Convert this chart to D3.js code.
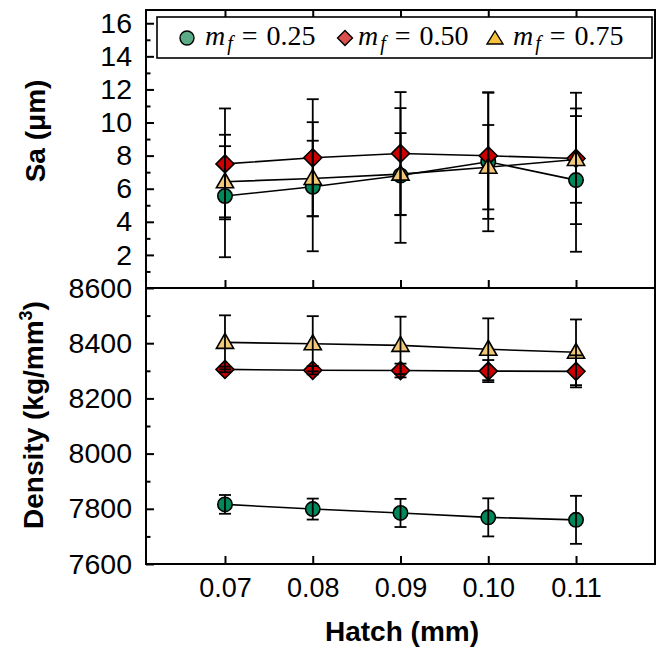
<!DOCTYPE html>
<html>
<head>
<meta charset="utf-8">
<script src="https://cdn.jsdelivr.net/npm/d3@7"></script>
<style>
  html, body { margin: 0; padding: 0; background: #fff; }
  svg { display: block; }
  .tick text { font-family: "Liberation Sans", Arial, sans-serif; font-size: 27px; fill: #000; }
  .y-axis .tick text { font-size: 28.5px; }
  .tick line { stroke: #000; stroke-width: 2px; }
</style>
</head>
<body>
<svg id="chart" width="661" height="655"></svg>
<script>
// Hatch spacing (mm)
const hatch = [0.07, 0.08, 0.09, 0.10, 0.11];

// Surface roughness Sa (µm) and standard deviation per powder mass fraction
const sa025 = [5.56, 6.12, 6.80, 7.63, 6.52];
const saErr025 = [3.70, 3.90, 4.07, 4.20, 4.33];
const sa050 = [7.50, 7.87, 8.13, 7.99, 7.83];
const saErr050 = [3.35, 3.54, 3.71, 3.81, 3.97];
const sa075 = [6.42, 6.62, 6.88, 7.30, 7.77];
const saErr075 = [2.15, 2.28, 2.48, 2.55, 2.62];

// Density (kg/mm³) and standard deviation
const den025 = [7816, 7799, 7785, 7769, 7760];
const denErr025 = [34, 38, 51, 69, 87];
const den050 = [8305, 8302, 8301, 8299, 8298];
const denErr050 = [10, 15, 25, 40, 58];
const den075 = [8403, 8398, 8392, 8378, 8367];
const denErr075 = [98, 100, 104, 112, 119];

// Axis ticks
const xTicks = [0.07, 0.08, 0.09, 0.10, 0.11];
const saMajor = [2, 4, 6, 8, 10, 12, 14, 16];
const saMinor = [1, 3, 5, 7, 9, 11, 13, 15];
const denMajor = [7600, 7800, 8000, 8200, 8400, 8600];
const denMinor = [7700, 7900, 8100, 8300, 8500];

// Series definitions
const mfLabels = ["0.25", "0.50", "0.75"];
const symbols = ["circle", "diamond", "triangle"];
const fills = ["#00875a", "#cc0000", "#f1c878"];
const legendFills = ["#5aab86", "#d9504f", "#f6c23e"];

const series = mfLabels.map((mf, i) => ({
  mf,
  symbol: symbols[i],
  fill: fills[i],
  legendFill: legendFills[i],
  sa: [sa025, sa050, sa075][i],
  saErr: [saErr025, saErr050, saErr075][i],
  den: [den025, den050, den075][i],
  denErr: [denErr025, denErr050, denErr075][i]
}));

const svg = d3.select("#chart");

const plotLeft = 146, plotRight = 655, plotTop = 10, plotMid = 288, plotBottom = 564;

const x = d3.scaleLinear().domain([0.061, 0.119]).range([plotLeft, plotRight]);
const ySa = d3.scaleLinear().domain([0, 16.8]).range([plotMid, plotTop]);
const yDen = d3.scaleLinear().domain([7600, 8600]).range([plotBottom, plotMid]);

// Marker shapes
function markerPath(sym, cx, cy) {
  if (sym === "circle") {
    const p = d3.path(); p.arc(cx, cy, 7.2, 0, 2 * Math.PI); return p.toString();
  }
  if (sym === "diamond") {
    const h = 9;
    return `M${cx},${cy - h}L${cx + h},${cy}L${cx},${cy + h}L${cx - h},${cy}Z`;
  }
  const w = 8.6, ht = 15;
  return `M${cx},${cy - ht * 0.6}L${cx + w},${cy + ht * 0.4}L${cx - w},${cy + ht * 0.4}Z`;
}

// Axes
function yAxis(scale, major, minor, g) {
  g.append("g").attr("class", "y-axis").attr("transform", `translate(${plotLeft},0)`)
    .call(d3.axisLeft(scale).tickValues(major).tickSize(-8).tickSizeOuter(0).tickPadding(14).tickFormat(d3.format("d")))
    .call(s => s.select(".domain").remove());
  g.append("g").attr("transform", `translate(${plotLeft},0)`)
    .call(d3.axisLeft(scale).tickValues(minor).tickSize(-4.5).tickSizeOuter(0).tickFormat(""))
    .call(s => s.select(".domain").remove());
}

const axes = svg.append("g");
yAxis(ySa, saMajor, saMinor, axes);
yAxis(yDen, denMajor, denMinor, axes);

// x ticks: top edge (down), panel divider (up), bottom edge (up, labelled)
axes.append("g").attr("transform", `translate(0,${plotTop})`)
  .call(d3.axisTop(x).tickValues(xTicks).tickSize(-8).tickSizeOuter(0).tickFormat(""))
  .call(s => s.select(".domain").remove());
axes.append("g").attr("transform", `translate(0,${plotMid})`)
  .call(d3.axisBottom(x).tickValues(xTicks).tickSize(-8).tickSizeOuter(0).tickFormat(""))
  .call(s => s.select(".domain").remove());
axes.append("g").attr("transform", `translate(0,${plotBottom})`)
  .call(d3.axisBottom(x).tickValues(xTicks).tickSize(-8).tickSizeOuter(0).tickPadding(14).tickFormat(d3.format(".2f")))
  .call(s => s.select(".domain").remove());

// Panel frames
svg.append("rect").attr("x", plotLeft).attr("y", plotTop).attr("width", plotRight - plotLeft).attr("height", plotMid - plotTop)
  .attr("fill", "none").attr("stroke", "#000").attr("stroke-width", 2);
svg.append("rect").attr("x", plotLeft).attr("y", plotMid).attr("width", plotRight - plotLeft).attr("height", plotBottom - plotMid)
  .attr("fill", "none").attr("stroke", "#000").attr("stroke-width", 2);

// Panel content
function drawPanel(y, key, errKey) {
  const g = svg.append("g");
  const line = d3.line().x((d, i) => x(hatch[i])).y(d => y(d));
  series.forEach(s => {
    g.append("path").attr("d", line(s[key])).attr("fill", "none")
      .attr("stroke", "#000").attr("stroke-width", 1.6);
  });
  series.forEach(s => {
    g.selectAll(null).data(s[key]).join("path")
      .attr("d", (d, i) => markerPath(s.symbol, x(hatch[i]), y(d)))
      .attr("fill", s.fill).attr("stroke", "#000").attr("stroke-width", 1.6);
  });
  series.forEach(s => {
    s[key].forEach((v, i) => {
      const cx = x(hatch[i]);
      const hi = y(v + s[errKey][i]), lo = y(v - s[errKey][i]);
      g.append("line").attr("x1", cx).attr("x2", cx).attr("y1", hi).attr("y2", lo)
        .attr("stroke", "#000").attr("stroke-width", 1.8);
      [hi, lo].forEach(yy => g.append("line").attr("x1", cx - 6).attr("x2", cx + 6)
        .attr("y1", yy).attr("y2", yy).attr("stroke", "#000").attr("stroke-width", 1.8));
    });
  });
}
drawPanel(ySa, "sa", "saErr");
drawPanel(yDen, "den", "denErr");

// Legend
const lg = svg.append("g");
lg.append("rect").attr("x", 157).attr("y", 17).attr("width", 495).attr("height", 41)
  .attr("fill", "#fff").attr("stroke", "#000").attr("stroke-width", 1.6);
const legendX = [187, 345, 495];
series.forEach((s, i) => {
  const cx = legendX[i], cy = 38;
  let d;
  if (s.symbol === "circle") { const p = d3.path(); p.arc(cx, cy, 7, 0, 2 * Math.PI); d = p.toString(); }
  else if (s.symbol === "diamond") d = `M${cx},${cy - 7.5}L${cx + 7.5},${cy}L${cx},${cy + 7.5}L${cx - 7.5},${cy}Z`;
  else d = `M${cx},${cy - 7}L${cx + 8},${cy + 6}L${cx - 8},${cy + 6}Z`;
  lg.append("path").attr("d", d).attr("fill", s.legendFill).attr("stroke", "#000").attr("stroke-width", 1.4);
  const t = lg.append("text").attr("x", cx + (s.symbol === "diamond" ? 13 : 18)).attr("y", 45)
    .attr("font-family", "'Liberation Serif', 'Times New Roman', serif").attr("font-size", 28);
  t.append("tspan").attr("font-style", "italic").text("m");
  t.append("tspan").attr("font-style", "italic").attr("font-size", 20).attr("dx", 2).attr("dy", 5).text("f");
  t.append("tspan").attr("dx", 9).attr("dy", -5).text("=");
  t.append("tspan").attr("dx", 9).text(s.mf);
});

// Axis titles
const titleFont = "'Liberation Sans', Arial, sans-serif";
svg.append("text").attr("transform", "translate(45,131) rotate(-90)")
  .attr("text-anchor", "middle").attr("font-family", titleFont).attr("font-weight", "bold").attr("font-size", 28)
  .text("Sa (\u03bcm)");
const dt = svg.append("text").attr("transform", "translate(43,415) rotate(-90)")
  .attr("text-anchor", "middle").attr("font-family", titleFont).attr("font-weight", "bold").attr("font-size", 28);
dt.append("tspan").text("Density (kg/mm");
dt.append("tspan").attr("font-size", 18).attr("dy", -11).text("3");
dt.append("tspan").attr("dy", 11).text(")");
svg.append("text").attr("x", (plotLeft + plotRight) / 2 + 1.5).attr("y", 641)
  .attr("text-anchor", "middle").attr("font-family", titleFont).attr("font-weight", "bold").attr("font-size", 28)
  .text("Hatch (mm)");
</script>
</body>
</html>
